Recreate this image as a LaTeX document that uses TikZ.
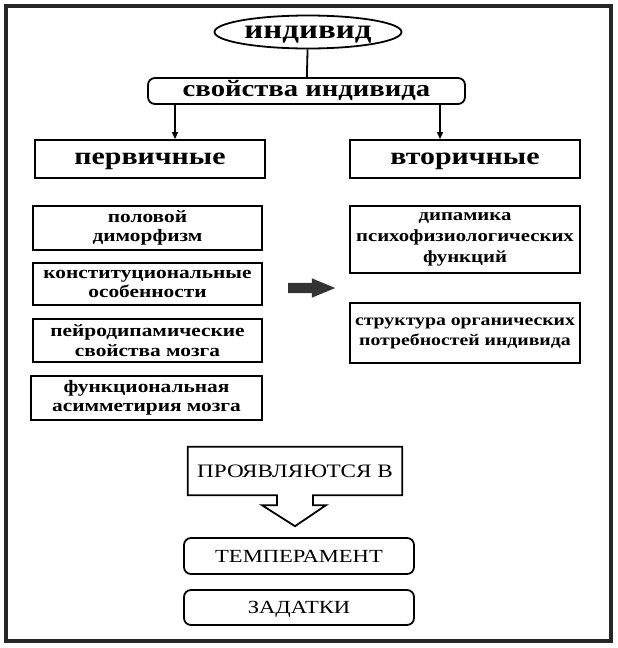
\documentclass[tikz,border=0pt]{standalone}
\usepackage{fontspec}
\setmainfont{Liberation Serif}[FakeStretch=1.22]
\usetikzlibrary{shapes.geometric,shapes.arrows,arrows.meta}

\tikzset{
  box/.style={draw, line width=1.8pt, align=center, inner sep=0pt, font=\bfseries\fontsize{17.5}{19.5}\selectfont},
  headbox/.style={box, minimum width=230pt, minimum height=38pt, text height=11.8pt, text depth=0pt, font=\bfseries\fontsize{24.5}{28}\selectfont},
  pill/.style={box, rounded corners=7pt, text height=12.2pt, text depth=0pt, font=\fontsize{18.5}{22}\selectfont},
  arr/.style={line width=1.3pt, -{Triangle[length=7pt,width=6pt]}},
}

\begin{document}
\begin{tikzpicture}[x=1pt, y=-1pt]
	\useasboundingbox (0,0) rectangle (618,648);
	\draw[line width=3.2pt, black!85] (6,6) rectangle (611,641);
	\node[draw, ellipse, line width=1.8pt, minimum width=187pt, minimum height=33pt, inner sep=0pt, text height=13pt, text depth=0pt, font=\bfseries\fontsize{27}{30}\selectfont] (ind) at (308,32) {индивид};
	\node[pill, minimum width=317pt, minimum height=26pt, text height=11.3pt, font=\bfseries\fontsize{23.5}{26}\selectfont] (props) at (306.5,91) {свойства индивида};
	\node[headbox] (prim) at (150,159) {первичные};
	\node[headbox] (sec) at (465,159) {вторичные};
	\node[box, minimum width=229pt, minimum height=44pt] (sex) at (147.5,228) {половой\\диморфизм};
	\node[box, minimum width=229pt, minimum height=42pt] (const) at (147.5,284) {конституциональные\\особенности};
	\node[box, minimum width=229pt, minimum height=43pt] (neuro) at (147.5,340.5) {пейродипамические\\свойства мозга};
	\node[box, minimum width=231pt, minimum height=44pt] (asym) at (146.5,398) {функциональная\\асимметирия мозга};
	\node[box, minimum width=230pt, minimum height=67pt, font=\bfseries\fontsize{17}{21}\selectfont] (dyn) at (465,239.5) {дипамика\\психофизиологических\\функций};
	\node[box, minimum width=230pt, minimum height=60pt, font=\bfseries\fontsize{16.2}{20}\selectfont] (needs) at (465,333) {структура органических\\потребностей индивида};
	\node[single arrow, fill=black!80, anchor=tail, minimum height=47pt, inner sep=5pt, single arrow head extend=4.5pt, single arrow tip angle=45] (link) at (288,288) {};
	\node[minimum width=214pt, minimum height=48pt, inner sep=0pt, text height=12.5pt, text depth=0pt, font=\fontsize{19}{24}\selectfont] (show) at (295,471) {ПРОЯВЛЯЮТСЯ В};
	\coordinate (tip) at ([yshift=-31pt]show.south);
	\draw[line width=1.8pt] (show.north west) -- (show.north east) -- (show.south east)
		-- ([xshift=18pt]show.south) -- ([xshift=18pt,yshift=-10pt]show.south) -- ([xshift=31pt,yshift=-10pt]show.south)
		-- (tip) -- ([xshift=-33pt,yshift=-10pt]show.south) -- ([xshift=-18pt,yshift=-10pt]show.south)
		-- ([xshift=-18pt]show.south) -- (show.south west) -- cycle;
	\node[pill, minimum width=230pt, minimum height=36pt] (temp) at (299,556) {ТЕМПЕРАМЕНТ};
	\node[pill, minimum width=230pt, minimum height=35pt] (inc) at (299,607.5) {ЗАДАТКИ};
	\draw[line width=1.8pt] (ind) -- (props);
	\coordinate (pa) at ([xshift=25pt]prim.north);
	\coordinate (sa) at ([xshift=-25pt]sec.north);
	\draw[arr] (pa |- props.south) -- (pa);
	\draw[arr] (sa |- props.south) -- (sa);
\end{tikzpicture}
\end{document}
